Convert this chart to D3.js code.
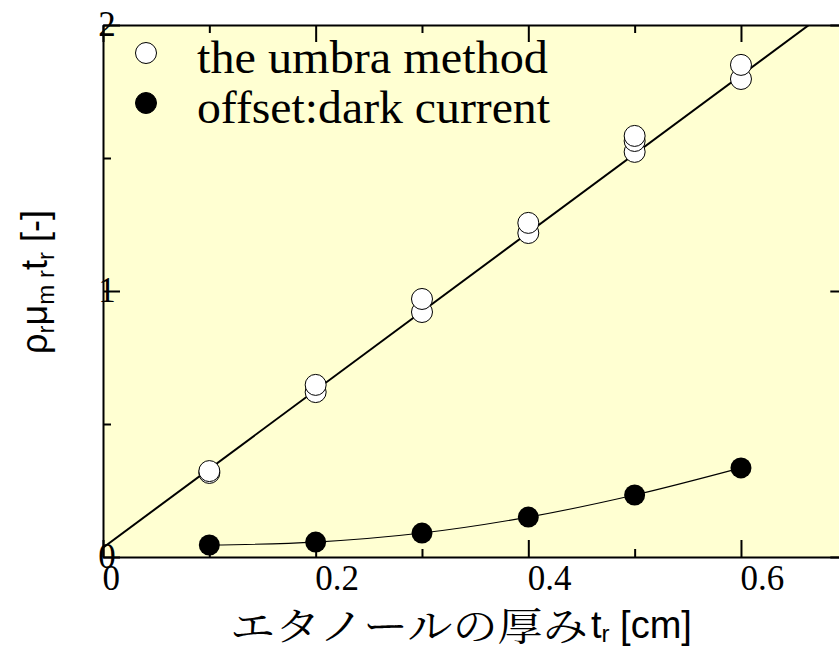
<!DOCTYPE html>
<html><head><meta charset="utf-8">
<script src="https://cdn.jsdelivr.net/npm/d3@7"></script>
<style>
body{margin:0;background:#fff}
.serif{font-family:"Liberation Serif","Tinos","Times New Roman",Times,"Nimbus Roman",serif}
.sans{font-family:"Liberation Sans",Arimo,Arial,Helvetica,sans-serif}
.jp{font-family:"Noto Serif CJK JP","Noto Sans CJK JP",sans-serif}
</style>
</head><body>
<svg id="c" width="839" height="650"></svg>
<script>
// ---- data ----
const thickness = [0.1, 0.2, 0.3, 0.4, 0.5, 0.6];
const umbraLow  = [0.316, 0.620, 0.921, 1.218, 1.523, 1.797];
const umbraMid  = [null, null, null, null, 1.564, null];
const umbraHigh = [0.323, 0.647, 0.970, 1.256, 1.583, 1.850];
const darkCurrent = [0.045, 0.056, 0.090, 0.150, 0.233, 0.335];
const fitX = [0, 0.7];
const fitY = [0.035, 2.107];
const xMajor = [0, 0.2, 0.4, 0.6];
const xMinor = [0.1, 0.3, 0.5, 0.7];
const yMajor = [0, 1, 2];
const yMinor = [0.5, 1.5];
const legendLabels = ["the umbra method", "offset:dark current"];

(function () {
// ---- layout ----
const svg = d3.select("#c");
const L = 103, R = 847.3, T = 25, B = 557;
const x = d3.scaleLinear().domain([0, 0.7]).range([L, R]);
const y = d3.scaleLinear().domain([0, 2]).range([B, T]);

svg.append("rect").attr("x", L).attr("y", T).attr("width", R - L).attr("height", B - T)
  .attr("fill", "#ffffd2");

svg.append("clipPath").attr("id", "clip").append("rect")
  .attr("x", L).attr("y", T).attr("width", R - L).attr("height", B - T);
const plot = svg.append("g").attr("clip-path", "url(#clip)");

// fitted line
plot.append("path")
  .datum(fitX.map((d, i) => [d, fitY[i]]))
  .attr("d", d3.line().x(d => x(d[0])).y(d => y(d[1])))
  .attr("fill", "none").attr("stroke", "#000").attr("stroke-width", 2);

// dark current curve
const dc = thickness.map((d, i) => [d, darkCurrent[i]]);
plot.append("path").datum(dc)
  .attr("d", d3.line().x(d => x(d[0])).y(d => y(d[1])).curve(d3.curveCatmullRom))
  .attr("fill", "none").attr("stroke", "#000").attr("stroke-width", 1.1);

plot.selectAll("circle.dc").data(dc).join("circle")
  .attr("cx", d => x(d[0])).attr("cy", d => y(d[1])).attr("r", 10.5)
  .attr("fill", "#000");

[umbraLow, umbraMid, umbraHigh].forEach(series => {
  const pts = thickness.map((d, i) => [d, series[i]]).filter(d => d[1] != null);
  plot.append("g").selectAll("circle").data(pts).join("circle")
    .attr("cx", d => x(d[0])).attr("cy", d => y(d[1])).attr("r", 10.5)
    .attr("fill", "#fff").attr("stroke", "#000").attr("stroke-width", 1);
});

// ---- axes ----
function styleAxis(g) {
  g.attr("font-family", null);
  g.select(".domain").attr("stroke", "#000").attr("stroke-width", 2);
  g.selectAll(".tick line").attr("stroke", "#000").attr("stroke-width", 2);
}
const axB = svg.append("g").attr("transform", `translate(0,${B})`)
  .call(d3.axisBottom(x).tickValues(xMajor).tickSize(-17).tickSizeOuter(0)
    .tickFormat(d => d === 0 ? "0" : d3.format(".1f")(d)));
styleAxis(axB);
axB.selectAll(".tick text").attr("y", 33).attr("dy", 0).attr("x", -1)
  .attr("text-anchor", "start").attr("class", "serif").attr("font-size", 35).attr("fill", "#000");
svg.append("g").attr("transform", `translate(0,${B})`)
  .call(d3.axisBottom(x).tickValues(xMinor).tickSize(-8).tickFormat("")).call(styleAxis)
  .select(".domain").remove();

const axT = svg.append("g").attr("transform", `translate(0,${T})`)
  .call(d3.axisTop(x).tickValues(xMajor).tickSize(-17).tickSizeOuter(0).tickFormat(""));
styleAxis(axT);
svg.append("g").attr("transform", `translate(0,${T})`)
  .call(d3.axisTop(x).tickValues(xMinor).tickSize(-8).tickFormat("")).call(styleAxis)
  .select(".domain").remove();

const axL = svg.append("g").attr("transform", `translate(${L},0)`)
  .call(d3.axisLeft(y).tickValues(yMajor).tickSize(-17).tickSizeOuter(0).tickFormat(d3.format("d")));
styleAxis(axL);
axL.selectAll(".tick text").attr("x", 4).attr("dy", "0.3em")
  .attr("text-anchor", "middle").attr("class", "serif").attr("font-size", 35).attr("fill", "#000");
svg.append("g").attr("transform", `translate(${L},0)`)
  .call(d3.axisLeft(y).tickValues(yMinor).tickSize(-8).tickFormat("")).call(styleAxis)
  .select(".domain").remove();

const axR = svg.append("g").attr("transform", `translate(${R},0)`)
  .call(d3.axisRight(y).tickValues(yMajor).tickSize(-17).tickSizeOuter(0).tickFormat(""));
styleAxis(axR);
svg.append("g").attr("transform", `translate(${R},0)`)
  .call(d3.axisRight(y).tickValues(yMinor).tickSize(-8).tickFormat("")).call(styleAxis)
  .select(".domain").remove();

// ---- legend ----
const lg = svg.append("g");
legendLabels.forEach((lab, i) => {
  const cy = 53 + i * 50;
  lg.append("circle").attr("cx", 146).attr("cy", cy).attr("r", 10.5)
    .attr("fill", i === 0 ? "#fff" : "#000").attr("stroke", "#000").attr("stroke-width", 1);
  lg.append("text").attr("x", 197).attr("y", cy + 20).text(lab)
    .attr("class", "serif").attr("font-size", 46).attr("fill", "#000")
    .attr("textLength", i === 0 ? 351 : 353).attr("lengthAdjust", "spacingAndGlyphs");
});

// ---- axis titles ----
svg.append("text").attr("x", 230).attr("y", 640)
  .attr("class", "jp")
  .attr("font-size", 39).attr("fill", "#000")
  .attr("textLength", 358).attr("lengthAdjust", "spacingAndGlyphs")
  .text("エタノールの厚み");
const xt = svg.append("text").attr("x", 591).attr("y", 638)
  .attr("class", "sans").attr("font-size", 38).attr("fill", "#000");
xt.append("tspan").text("t");
xt.append("tspan").attr("font-size", 24).attr("dy", 4).text("r");
xt.append("tspan").attr("dy", -4).text(" [cm]");

const yt = svg.append("text")
  .attr("transform", "translate(47,282) rotate(-90)")
  .attr("text-anchor", "middle")
  .attr("class", "sans").attr("font-size", 36).attr("fill", "#000");
yt.append("tspan").text("ρ");
yt.append("tspan").attr("font-size", 24).attr("dy", 7).text("r");
yt.append("tspan").attr("dy", -7).text("μ");
yt.append("tspan").attr("font-size", 24).attr("dy", 7).text("m r");
yt.append("tspan").attr("dy", -7).text("t");
yt.append("tspan").attr("font-size", 24).attr("dy", 7).text("r");
yt.append("tspan").attr("dy", -7).text(" [-]");
})();
</script>
</body></html>
